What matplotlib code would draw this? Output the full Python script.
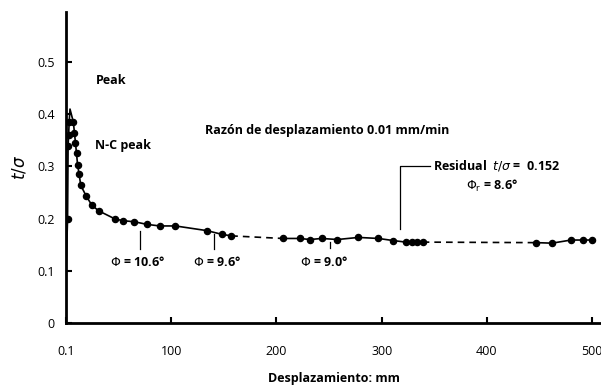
import matplotlib
matplotlib.use("Agg")
import matplotlib.pyplot as plt
from matplotlib import font_manager

# ---- data ----
seg1_x = [0, 1.5, 2, 2.5, 3, 3.8, 7, 8, 9, 10, 11, 12.5, 14, 19, 24.5, 31, 47, 54.5, 65, 77, 89, 104, 134, 148, 157]
seg1_y = [0.10, 0.20, 0.34, 0.36, 0.385, 0.41, 0.385, 0.365, 0.345, 0.325, 0.303, 0.285, 0.264, 0.244, 0.226,
          0.215, 0.199, 0.196, 0.194, 0.189, 0.186, 0.186, 0.177, 0.170, 0.167]
seg1_marker = [False, True, True, True, True, False] + [True] * 19
seg2_x = [206, 222, 232, 243, 258, 278, 297, 311, 323, 328.5, 334, 339]
seg2_y = [0.162, 0.162, 0.160, 0.162, 0.160, 0.164, 0.162, 0.158, 0.155, 0.155, 0.155, 0.155]
seg3_x = [447, 462, 480, 491, 500]
seg3_y = [0.154, 0.153, 0.159, 0.159, 0.159]

xticks = [0, 100, 200, 300, 400, 500]
xtick_labels = ["0.1", "100", "200", "300", "400", "500"]
yticks = [0, 0.1, 0.2, 0.3, 0.4, 0.5]
ytick_labels = ["0", "0.1", "0.2", "0.3", "0.4", "0.5"]

avail = {f.name for f in font_manager.fontManager.ttflist}
fam = ["Liberation Sans Narrow"] if "Liberation Sans Narrow" in avail else ["Open Sans"]
plt.rcParams["font.family"] = fam + ["DejaVu Sans"]

fig = plt.figure(figsize=(6.01, 3.88), dpi=100)
ax = fig.add_axes([66 / 601, 1 - 323 / 388, 535 / 601, 311 / 388])
ax.set_xlim(0, 508.5)
ax.set_ylim(0, 0.596)

ms = 4.4
ax.plot(seg1_x, seg1_y, color="black", lw=1.2, marker="o", ms=ms,
        markevery=seg1_marker)
ax.plot(seg2_x, seg2_y, color="black", lw=1.2, marker="o", ms=ms)
ax.plot(seg3_x, seg3_y, color="black", lw=1.2, marker="o", ms=ms)
ax.plot([seg1_x[-1], seg2_x[0]], [seg1_y[-1], seg2_y[0]], color="black", lw=1.2, ls=(0, (4, 3)))
ax.plot([seg2_x[-1], seg3_x[0]], [seg2_y[-1], seg3_y[0]], color="black", lw=1.2, ls=(0, (4, 3)))

for s in ["top", "right"]:
    ax.spines[s].set_visible(False)
for s in ["left", "bottom"]:
    ax.spines[s].set_linewidth(2)
ax.set_xticks(xticks)
ax.set_xticklabels(xtick_labels)
ax.set_yticks(yticks)
ax.set_yticklabels(ytick_labels)
ax.tick_params(axis="both", direction="in", length=4, width=1.5, labelsize=9)
ax.tick_params(axis="x", pad=16)
ax.tick_params(axis="y", pad=8)

ax.set_ylabel(r"$t/\sigma$", fontsize=12, labelpad=6)
ax.set_xlabel("Desplazamiento: mm", fontsize=9, fontweight="bold", labelpad=10)

tk = dict(fontsize=9, fontweight="bold")
ax.text(28, 0.465, "Peak", **tk, va="center")
ax.text(28, 0.34, "N-C peak", **tk, va="center")
ax.text(132, 0.368, "Razón de desplazamiento 0.01 mm/min", **tk, va="center")
ax.text(349, 0.301, r"Residual  $t/\sigma$ =  0.152", **tk, va="center")
ax.text(380, 0.262, r"$\Phi_\mathrm{r}$ = 8.6°", **tk, va="center")
ax.plot([317, 317, 346], [0.18, 0.300, 0.300], color="black", lw=0.9)

for xv, y0, y1, lab, xl in [(70, 0.176, 0.141, r"$\Phi$ = 10.6°", 68),
                            (141, 0.170, 0.141, r"$\Phi$ = 9.6°", 144),
                            (251, 0.155, 0.143, r"$\Phi$ = 9.0°", 245)]:
    ax.plot([xv, xv], [y0, y1], color="black", lw=0.9)
    ax.text(xl, 0.117, lab, ha="center", va="center", **tk)

fig.savefig("out.png", dpi=100)
